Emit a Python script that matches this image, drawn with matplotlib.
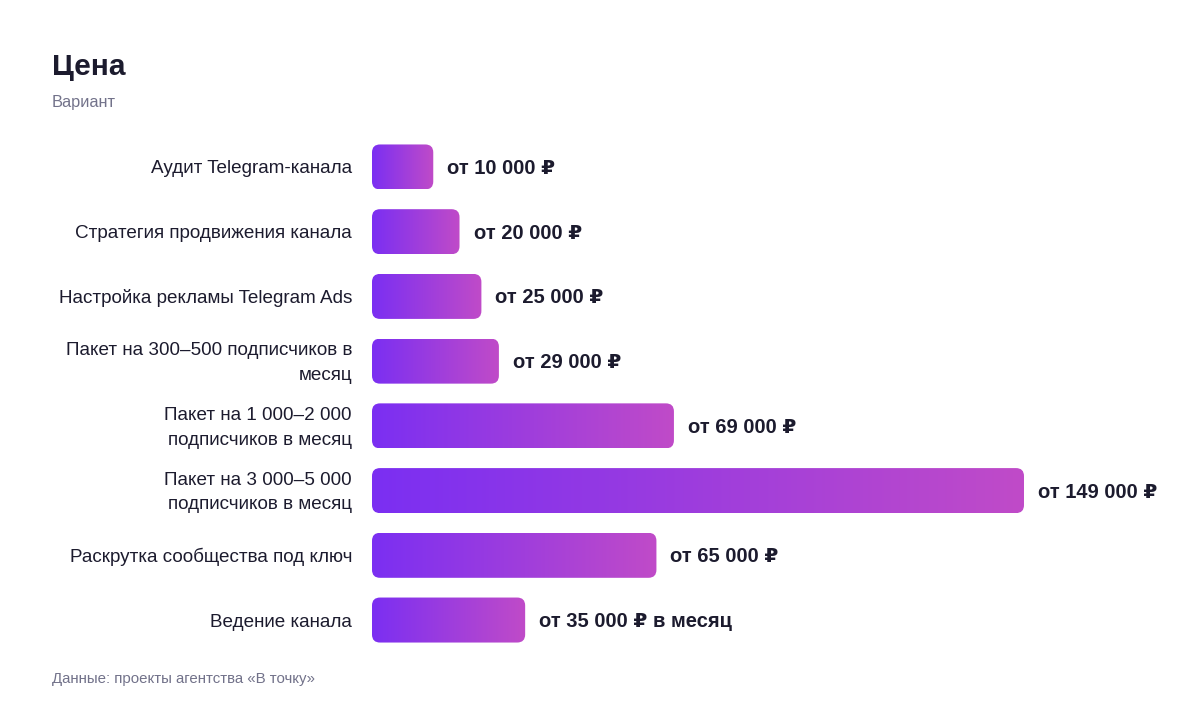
import numpy as np
import matplotlib
matplotlib.use("Agg")
import matplotlib.pyplot as plt
from matplotlib.patches import FancyBboxPatch
from matplotlib.colors import LinearSegmentedColormap

plt.rcParams["font.family"] = ["Liberation Sans", "DejaVu Sans"]

categories = [
    "Аудит Telegram-канала",
    "Стратегия продвижения канала",
    "Настройка рекламы Telegram Ads",
    "Пакет на 300–500 подписчиков в\nмесяц",
    "Пакет на 1 000–2 000\nподписчиков в месяц",
    "Пакет на 3 000–5 000\nподписчиков в месяц",
    "Раскрутка сообщества под ключ",
    "Ведение канала",
]
prices = [10000, 20000, 25000, 29000, 69000, 149000, 65000, 35000]
value_labels = [
    "от 10 000 ₽",
    "от 20 000 ₽",
    "от 25 000 ₽",
    "от 29 000 ₽",
    "от 69 000 ₽",
    "от 149 000 ₽",
    "от 65 000 ₽",
    "от 35 000 ₽ в месяц",
]

MIN_BAR = 14000  # shortest bars are drawn a bit wider, as in the original
TEXT = "#1c1b2e"
GREY = "#72728a"
grad = LinearSegmentedColormap.from_list("g", ["#7b2ff2", "#c04bc8"])

W, H = 1200, 712
fig = plt.figure(figsize=(W / 100, H / 100), dpi=100)
ax_left, ax_right = 372 / W, 1180 / W
ax_top, ax_bottom = 1 - 134.6 / H, 1 - 652.4 / H
ax = fig.add_axes([ax_left, ax_bottom, ax_right - ax_left, ax_top - ax_bottom])

xmax = 149000 * (1180 - 372) / 652
ax.set_xlim(0, xmax)
ax.set_ylim(len(categories) - 0.5, -0.5)

px_x = xmax / (1180 - 372)  # data units per pixel
px_y = len(categories) / (652.4 - 134.6)
bar_h = 45 * px_y
radius = 8 * px_x

xs = np.linspace(0, 1, 256).reshape(1, -1)
for i, (cat, v, lab) in enumerate(zip(categories, prices, value_labels)):
    w = max(v, MIN_BAR)
    patch = FancyBboxPatch((0, i - bar_h / 2), w, bar_h,
                           boxstyle=f"round,pad=0,rounding_size={radius}",
                           mutation_aspect=px_y / px_x,
                           facecolor="none", edgecolor="none")
    ax.add_patch(patch)
    im = ax.imshow(xs, cmap=grad, aspect="auto",
                   extent=(0, w, i + bar_h / 2, i - bar_h / 2),
                   interpolation="bilinear")
    im.set_clip_path(patch)
    ax.text(w + 14 * px_x, i + 1.5 * px_y, lab, ha="left", va="center",
            fontsize=14.5, fontweight="bold", color=TEXT)
    ax.text(-20 * px_x, i + 2 * px_y, cat, ha="right", va="center",
            fontsize=13.6, color=TEXT, linespacing=1.6)

ax.set_xlim(0, xmax)
ax.set_ylim(len(categories) - 0.5, -0.5)
ax.axis("off")

fig.text(52 / W, 1 - 67 / H, "Цена", fontsize=21.5, fontweight="bold",
         color=TEXT, va="center", ha="left")
fig.text(52 / W, 1 - 103 / H, "Вариант", fontsize=11.8, color=GREY,
         va="center", ha="left")
fig.text(52 / W, 1 - 679 / H, "Данные: проекты агентства «В точку»",
         fontsize=10.8, color=GREY, va="center", ha="left")

fig.savefig("out.png", dpi=100, facecolor="white")
